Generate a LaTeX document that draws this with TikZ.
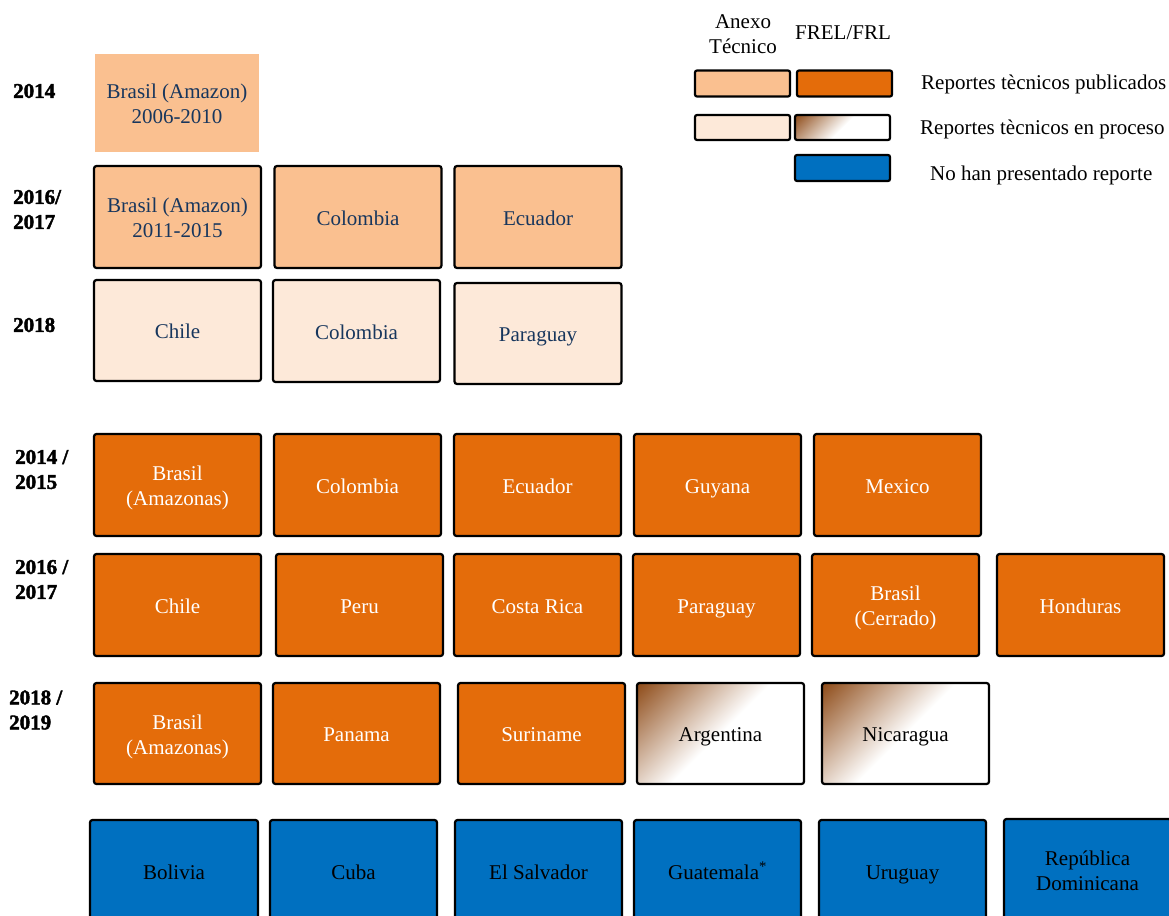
\documentclass[tikz,border=0pt]{standalone}
\usepackage{fontspec}
\setmainfont{Liberation Serif}
\newfontfamily\yearfont[FakeBold=2]{Liberation Serif Bold}
\definecolor{peach}{HTML}{FAC090}
\definecolor{lightpeach}{HTML}{FDE9D9}
\definecolor{frelorange}{HTML}{E46C0A}
\definecolor{noblue}{HTML}{0070C0}
\definecolor{navytext}{HTML}{17365D}
\definecolor{gradbrown}{HTML}{8C4814}
\pgfdeclareverticalshading{procshade}{100bp}{color(0bp)=(white); color(50bp)=(white); color(86bp)=(gradbrown); color(100bp)=(gradbrown)}
\newcommand{\boxfont}{\fontsize{21}{25}\selectfont}
\newcommand{\bt}[1]{\rule{0pt}{22pt}#1\rule[-5.5pt]{0pt}{5.5pt}}
\tikzset{
  cbox/.style={draw=black, line width=2.2pt, rounded corners=2.5pt, minimum width=167pt,
    minimum height=102pt, inner sep=0pt, align=center, font=\boxfont},
  anexo/.style={cbox, fill=peach, text=navytext},
  anexoproc/.style={cbox, fill=lightpeach, text=navytext},
  frel/.style={cbox, fill=frelorange, text=white},
  frelproc/.style={cbox, shading=procshade, shading angle=45, text=black},
  noreport/.style={cbox, fill=noblue, text=black},
  yearlbl/.style={anchor=west, align=left, inner sep=0pt, font=\yearfont\fontsize{21}{25}\selectfont},
  legbox/.style={draw=black, line width=2.2pt, rounded corners=2pt, minimum width=95pt, minimum height=26pt, inner sep=0pt},
  legtext/.style={anchor=west, inner sep=0pt, font=\boxfont},
}
\begin{document}
\begin{tikzpicture}[x=1pt, y=-1pt]
\useasboundingbox (0,0) rectangle (1169,915);

% Legend
\node[align=center, font=\boxfont, inner sep=0pt] (hAnexo) at (743,34.5) {Anexo\\Técnico};
\node[font=\boxfont, inner sep=0pt] (hFrel) at (843,33) {FREL/FRL};
\node[legbox, fill=peach] (lg1) at (742.5,83.5) {};
\node[legbox, fill=frelorange] (lg2) at (844.5,83.5) {};
\node[legbox, fill=lightpeach, minimum height=25pt] (lg3) at (742.5,127.5) {};
\node[legbox, shading=procshade, shading angle=45, minimum height=25pt] (lg4) at (842.5,127.5) {};
\node[legbox, fill=noblue] (lg5) at (842.5,168) {};
\node[legtext] (lt1) at (921,84) {Reportes tècnicos publicados};
\node[legtext] (lt2) at (920,129) {Reportes tècnicos en proceso};
\node[legtext] (lt3) at (930,175) {No han presentado reporte};

% Year labels
\node[yearlbl] (y1) at (13,91) {2014};
\node[yearlbl] (y2) at (13,209.5) {2016/\\2017};
\node[yearlbl] (y3) at (13,325) {2018};
\node[yearlbl] (y4) at (15,469.5) {2014 /\\2015};
\node[yearlbl] (y5) at (15,579.5) {2016 /\\2017};
\node[yearlbl] (y6) at (9,710) {2018 /\\2019};

% Anexo Tecnico
\node[anexo, draw=none, minimum width=164pt, minimum height=98pt, rounded corners=0pt] (a1) at (177,103) {\bt{Brasil (Amazon)\\2006-2010}};
\node[anexo] (a2) at (177.5,217) {\bt{Brasil (Amazon)\\2011-2015}};
\node[anexo] (a3) at (358,217) {\bt{Colombia}};
\node[anexo] (a4) at (538,217) {\bt{Ecuador}};
\node[anexoproc, minimum height=101pt] (a5) at (177.5,330.5) {\bt{Chile}};
\node[anexoproc] (a6) at (356.5,331) {\bt{Colombia}};
\node[anexoproc, minimum height=101pt] (a7) at (538,333.5) {\bt{Paraguay}};

% FREL/FRL 2014/2015
\node[frel] (f1) at (177.5,485) {\bt{Brasil\\(Amazonas)}};
\node[frel] (f2) at (357.5,485) {\bt{Colombia}};
\node[frel] (f3) at (537.5,485) {\bt{Ecuador}};
\node[frel] (f4) at (717.5,485) {\bt{Guyana}};
\node[frel] (f5) at (897.5,485) {\bt{Mexico}};

% FREL/FRL 2016/2017
\node[frel] (g1) at (177.5,605) {\bt{Chile}};
\node[frel] (g2) at (359.5,605) {\bt{Peru}};
\node[frel] (g3) at (537.5,605) {\bt{Costa Rica}};
\node[frel] (g4) at (716.5,605) {\bt{Paraguay}};
\node[frel] (g5) at (895.5,605) {\bt{Brasil\\(Cerrado)}};
\node[frel] (g6) at (1080.5,605) {\bt{Honduras}};

% FREL/FRL 2018/2019
\node[frel, minimum height=101pt] (h1) at (177.5,733.5) {\bt{Brasil\\(Amazonas)}};
\node[frel, minimum height=101pt] (h2) at (356.5,733.5) {\bt{Panama}};
\node[frel, minimum height=101pt] (h3) at (541.5,733.5) {\bt{Suriname}};
\node[frelproc, minimum height=101pt] (h4) at (720.5,733.5) {\bt{Argentina}};
\node[frelproc, minimum height=101pt] (h5) at (905.5,733.5) {\bt{Nicaragua}};

% No report
\node[noreport, minimum width=168pt] (n1) at (174,871) {\bt{Bolivia}};
\node[noreport] (n2) at (353.5,871) {\bt{Cuba}};
\node[noreport] (n3) at (538.5,871) {\bt{El Salvador}};
\node[noreport] (n4) at (717.5,871) {\bt{Guatemala\textsuperscript{*}}};
\node[noreport] (n5) at (902.5,871) {\bt{Uruguay}};
\node[noreport] (n6) at (1087.5,870) {\bt{República\\Dominicana}};
\end{tikzpicture}
\end{document}
